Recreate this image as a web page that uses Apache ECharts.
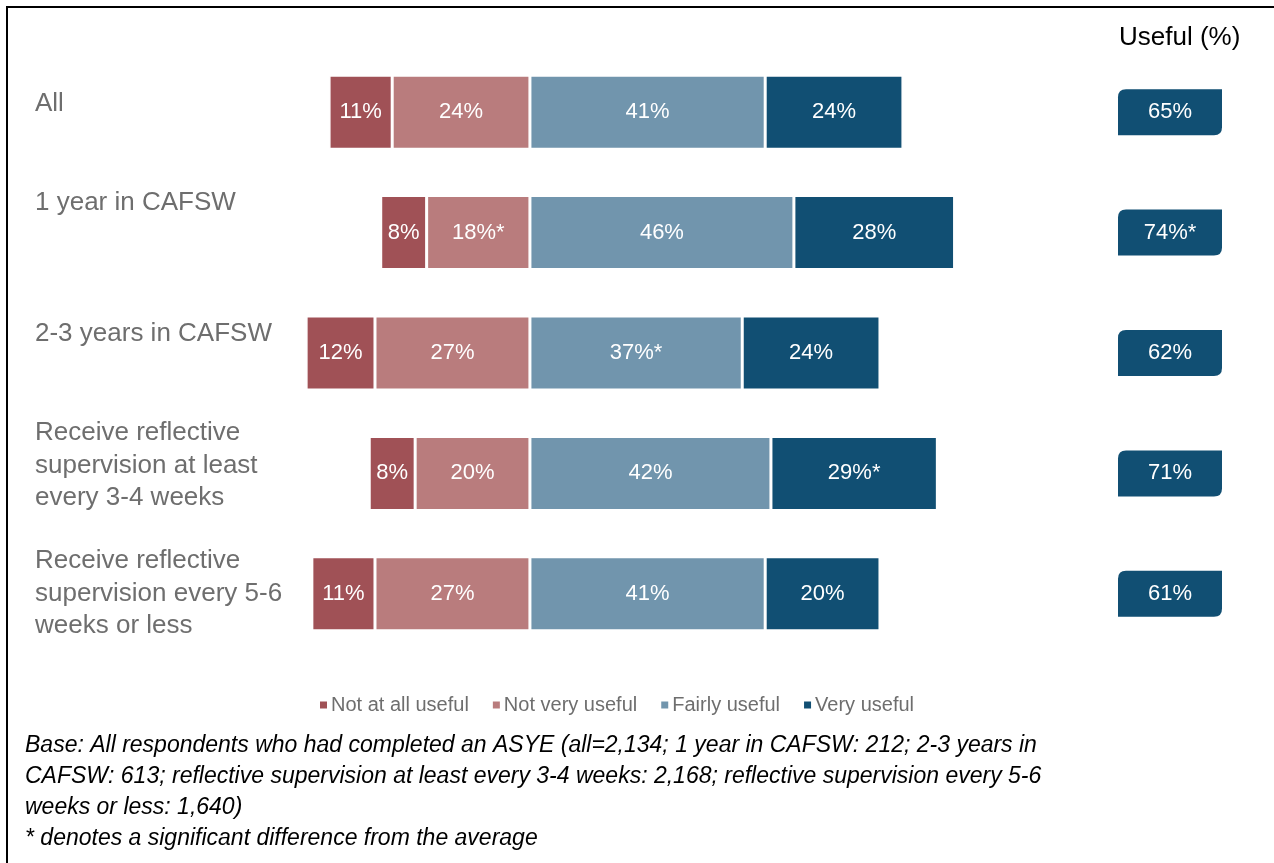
<!DOCTYPE html>
<html>
<head>
<meta charset="utf-8">
<script src="https://cdn.jsdelivr.net/npm/echarts@6/dist/echarts.min.js"></script>
<style>
html,body{margin:0;padding:0;background:#fff;}
#chart{width:1274px;height:863px;}
</style>
</head>
<body>
<div id="chart"></div>
<script>
// ---- data ----
const categories = [
  'All',
  '1 year in CAFSW',
  '2-3 years in CAFSW',
  'Receive reflective\nsupervision at least\nevery 3-4 weeks',
  'Receive reflective\nsupervision every 5-6\nweeks or less'
];
const notAtAllUseful = [11, 8, 12, 8, 11];
const notVeryUseful  = [24, 18, 27, 20, 27];
const fairlyUseful   = [41, 46, 37, 42, 41];
const veryUseful     = [24, 28, 24, 29, 20];
const usefulTotal    = [65, 74, 62, 71, 61];
// significance flags (asterisk) per series, by category index
const sigNotVery  = [false, true, false, false, false];
const sigFairly   = [false, false, true, false, false];
const sigVery     = [false, false, false, true, false];
const sigUseful   = [false, true, false, false, false];
const seriesNames = ['Not at all useful', 'Not very useful', 'Fairly useful', 'Very useful'];
const footnote = [
  'Base: All respondents who had completed an ASYE (all=2,134; 1 year in CAFSW: 212; 2-3 years in',
  'CAFSW: 613; reflective supervision at least every 3-4 weeks: 2,168; reflective supervision every 5-6',
  'weeks or less: 1,640)',
  '* denotes a significant difference from the average'
];

// ---- layout / style ----
const colors = ['#A05156', '#B97C7D', '#7195AD', '#114F73'];
const labelShift = [8, 30, 19, 8, 0]; // upward shift (px) of category labels
const FONT = 'Liberation Sans, Arial, sans-serif';

const chart = echarts.init(document.getElementById('chart'));

function starLabel(values, sig) {
  return function (p) {
    const v = Math.abs(values[p.dataIndex]);
    return v + '%' + (sig && sig[p.dataIndex] ? '*' : '');
  };
}
const barLabel = (values, sig) => ({
  show: true, position: 'inside', color: '#fff', fontSize: 22, fontFamily: FONT,
  formatter: starLabel(values, sig)
});
const barBase = {
  type: 'bar', stack: 'total', barWidth: 74, xAxisIndex: 0, yAxisIndex: 0
};

const rich = { t: { fontSize: 26, lineHeight: 32.5, color: '#6E6E6E', fontFamily: FONT, align: 'left' } };
labelShift.forEach((s, i) => {
  rich['g' + i] = { fontSize: 1, lineHeight: Math.max(1, s * 2), align: 'left' };
});

const gridTop = 52, gridBottom = 209;

const option = {
  animation: false,
  backgroundColor: '#fff',
  textStyle: { fontFamily: FONT },
  title: {
    text: 'Useful (%)', left: 1114, top: 20,
    textStyle: { color: '#000', fontSize: 26, fontWeight: 'normal', fontFamily: FONT }
  },
  legend: {
    data: seriesNames, bottom: 143, left: 313,
    icon: 'rect', itemWidth: 9, itemHeight: 9, itemGap: 22,
    textStyle: { color: '#6E6E6E', fontSize: 20, fontFamily: FONT, padding: [0, 0, 0, -2] }
  },
  grid: [
    { left: 243, right: 285, top: gridTop, bottom: gridBottom, outerBoundsMode: 'none', containLabel: false },
    { left: 1118, width: 104, top: gridTop, bottom: gridBottom, outerBoundsMode: 'none', containLabel: false }
  ],
  xAxis: [
    { type: 'value', gridIndex: 0, min: -50, max: 80, show: false },
    { type: 'value', gridIndex: 1, min: 0, max: 1, show: false }
  ],
  yAxis: [
    {
      type: 'category', gridIndex: 0, inverse: true, data: categories,
      axisLine: { show: false }, axisTick: { show: false },
      axisLabel: {
        align: 'left', margin: 208, color: '#6E6E6E', fontSize: 26, lineHeight: 32.5,
        fontFamily: FONT,
        formatter: function (value, index) {
          const lines = value.split('\n').map(l => '{t|' + l + '}');
          if (labelShift[index] > 0) lines.push('{g' + index + '| }');
          return lines.join('\n');
        },
        rich: rich
      }
    },
    {
      type: 'category', gridIndex: 1, inverse: true, data: categories, show: false
    }
  ],
  series: [
    Object.assign({}, barBase, {
      name: seriesNames[1], data: notVeryUseful.map(v => -v),
      itemStyle: { color: colors[1], borderColor: '#fff', borderWidth: 1.5 },
      label: barLabel(notVeryUseful, sigNotVery)
    }),
    Object.assign({}, barBase, {
      name: seriesNames[0], data: notAtAllUseful.map(v => -v),
      itemStyle: { color: colors[0], borderColor: '#fff', borderWidth: 1.5 },
      label: barLabel(notAtAllUseful, null)
    }),
    Object.assign({}, barBase, {
      name: seriesNames[2], data: fairlyUseful,
      itemStyle: { color: colors[2], borderColor: '#fff', borderWidth: 1.5 },
      label: barLabel(fairlyUseful, sigFairly)
    }),
    Object.assign({}, barBase, {
      name: seriesNames[3], data: veryUseful,
      itemStyle: { color: colors[3], borderColor: '#fff', borderWidth: 1.5 },
      label: barLabel(veryUseful, sigVery)
    }),
    {
      type: 'scatter', xAxisIndex: 1, yAxisIndex: 1,
      data: usefulTotal.map((v, i) => [0.5, categories[i], v]),
      symbol: 'path://M0,8 Q0,0 8,0 L104,0 L104,38 Q104,46 96,46 L0,46 Z',
      symbolSize: [104, 46], symbolKeepAspect: false,
      itemStyle: { color: '#114F73', opacity: 1 },
      label: {
        show: true, position: 'inside', color: '#fff', fontSize: 22, fontFamily: FONT,
        formatter: p => usefulTotal[p.dataIndex] + '%' + (sigUseful[p.dataIndex] ? '*' : '')
      },
      silent: true
    }
  ],
  graphic: [
    {
      type: 'rect', shape: { x: 7, y: 7, width: 1300, height: 900 },
      style: { fill: null, stroke: '#000', lineWidth: 2 }, silent: true
    },
    {
      type: 'text', left: 25, top: 730,
      style: {
        text: footnote.join('\n'), fill: '#000', fontSize: 23, lineHeight: 31,
        fontStyle: 'italic', fontFamily: FONT
      }
    }
  ]
};
chart.setOption(option);
</script>
</body>
</html>
